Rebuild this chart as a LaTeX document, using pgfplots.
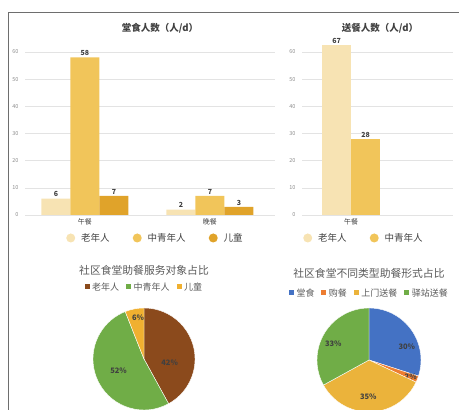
\documentclass[border=0pt]{standalone}
\usepackage{pgfplots}
\pgfplotsset{compat=1.18}
\usepackage{fontspec}
\setmainfont{Noto Sans CJK SC}
\definecolor{c1}{HTML}{F7E3B3}
\definecolor{c2}{HTML}{F1C55A}
\definecolor{c3}{HTML}{E0A32A}
\definecolor{gridc}{HTML}{E3E3E3}
\definecolor{tickc}{HTML}{8C8C8C}
\definecolor{txt}{HTML}{404040}
\definecolor{ptxt}{HTML}{595959}
\definecolor{pbrown}{HTML}{8B4A1C}
\definecolor{pgreen}{HTML}{70AD47}
\definecolor{porange}{HTML}{F0B030}
\definecolor{pblue}{HTML}{4472C4}
\definecolor{pred}{HTML}{ED7D31}
\definecolor{pgold}{HTML}{EBB33B}
\definecolor{framec}{HTML}{6E6E6E}
\pgfplotsset{
  barbase/.style={
    scale only axis, height=169.8pt, ymin=0, ymax=62.5,
    ytick={0,10,...,60}, ymajorgrids, grid style={gridc, line width=0.6pt},
    axis line style={draw=none}, major tick length=0pt,
    /pgf/number format/assume math mode=true,
    yticklabel style={font=\fontsize{5.5}{6}\selectfont, text=tickc, xshift=-3pt},
    xticklabel style={font=\fontsize{7}{8}\selectfont, text=txt},
    ybar=0pt, bar width=29pt,
    nodes near coords,
    every node near coord/.append style={font=\fontsize{7}{8}\selectfont\bfseries, text=txt, inner sep=1.5pt},
    legend columns=-1,
    legend style={draw=none, fill=none, at={(0.5,0)}, anchor=center, yshift=-23pt,
      font=\fontsize{9.5}{11}\selectfont, text=txt,
      nodes={inner sep=1pt},
      /tikz/every odd column/.append style={column sep=5pt},
      /tikz/every even column/.append style={column sep=22pt}},
  },
  circleleg/.style={legend image code/.code={\fill[##1] (0pt,0pt) circle (4.5pt);}},
  piebase/.style={
    hide axis, scale only axis, xmin=-1, xmax=1, ymin=-1, ymax=1, clip=false,
    legend columns=-1,
    legend style={draw=none, fill=none, anchor=center,
      font=\fontsize{9}{10}\selectfont, text=ptxt,
      nodes={inner sep=1pt},
      /tikz/every odd column/.append style={column sep=1.5pt},
      /tikz/every even column/.append style={column sep=6pt}},
    title style={font=\fontsize{10.8}{12}\selectfont, text=ptxt, anchor=center},
  },
  sqleg/.style={legend image code/.code={\fill[##1, draw=none] (0pt,-2.5pt) rectangle (5pt,2.5pt);}},
}
\begin{document}
\begin{tikzpicture}
\path[use as bounding box] (0pt,0pt) rectangle (459pt,410pt);
\draw[framec, line width=0.8pt] (8pt,0pt) -- (8pt,398pt) -- (459pt,398pt);

% ---- left bar chart
\begin{axis}[barbase, at={(25pt,195pt)}, anchor=south west, width=250pt,
  xmin=-0.48, xmax=1.52, xtick={0,1}, xticklabels={午餐,晚餐},
  legend style={xshift=5pt}]
\addplot[fill=c1, draw=none, circleleg] coordinates {(0,6) (1,2)};
\addplot[fill=c2, draw=none, circleleg] coordinates {(0,58) (1,7)};
\addplot[fill=c3, draw=none, circleleg] coordinates {(0,7) (1,3)};
\legend{老年人,中青年人,儿童}
\end{axis}
\node[font=\fontsize{9.5}{11}\selectfont\bfseries, text=txt] at (160pt,382pt) {堂食人数（人/d）};

% ---- right bar chart
\begin{axis}[barbase, at={(302pt,195pt)}, anchor=south west, width=151pt,
  xmin=-0.5, xmax=1.04, xtick={0}, xticklabels={午餐},
  restrict y to domain*=0:62.5, point meta=rawy,
  legend style={xshift=-14pt}]
\addplot[fill=c1, draw=none, circleleg] coordinates {(0,67)};
\addplot[fill=c2, draw=none, circleleg] coordinates {(0,28)};
\legend{老年人,中青年人}
\end{axis}
\node[font=\fontsize{9.5}{11}\selectfont\bfseries, text=txt] at (380pt,382pt) {送餐人数（人/d）};

% ---- left pie
\begin{axis}[piebase, at={(144pt,51pt)}, anchor=center, width=102pt, height=102pt,
  legend style={at={(0.5,1)}, yshift=21pt},
  title={社区食堂助餐服务对象占比}, title style={at={(0.5,1)}, yshift=32pt}]
\addlegendimage{sqleg, fill=pbrown}\addlegendentry{老年人}
\addlegendimage{sqleg, fill=pgreen}\addlegendentry{中青年人}
\addlegendimage{sqleg, fill=porange}\addlegendentry{儿童}
\pgfplotsextra{
  \gdef\s{90}
  \foreach \v/\c/\la/\lr in {42/pbrown/-9/26, 52/pgreen/-155/28, 6/porange/98/42} {
    \pgfmathsetmacro\e{\s-3.6*\v}
    \fill[\c, draw=white, line width=0.4pt] (axis cs:0,0) -- ++(\s:51pt) arc[start angle=\s, end angle=\e, radius=51pt] -- cycle;
    \path (axis cs:0,0) ++(\la:\lr pt) node[font=\fontsize{7.5}{9}\selectfont\bfseries, text=txt] {\v\%};
    \xdef\s{\e}
  }
}
\end{axis}

% ---- right pie
\begin{axis}[piebase, at={(369pt,50pt)}, anchor=center, width=104pt, height=104pt,
  legend style={at={(0.5,1)}, yshift=15pt},
  title={社区食堂不同类型助餐形式占比}, title style={at={(0.5,1)}, yshift=29pt}]
\addlegendimage{sqleg, fill=pblue}\addlegendentry{堂食}
\addlegendimage{sqleg, fill=pred}\addlegendentry{购餐}
\addlegendimage{sqleg, fill=pgold}\addlegendentry{上门送餐}
\addlegendimage{sqleg, fill=pgreen}\addlegendentry{驿站送餐}
\pgfplotsextra{
  \gdef\s{90}
  \foreach \v/\c/\la/\lr in {30/pblue/19/40, 2/pred/-22/45, 35/pgold/-91/37, 33/pgreen/156/39} {
    \pgfmathsetmacro\e{\s-3.6*\v}
    \fill[\c, draw=white, line width=0.4pt] (axis cs:0,0) -- ++(\s:52pt) arc[start angle=\s, end angle=\e, radius=52pt] -- cycle;
    \path (axis cs:0,0) ++(\la:\lr pt) node[font=\fontsize{7.5}{9}\selectfont\bfseries, text=txt] {\v\%};
    \xdef\s{\e}
  }
}
\end{axis}
\end{tikzpicture}
\end{document}
